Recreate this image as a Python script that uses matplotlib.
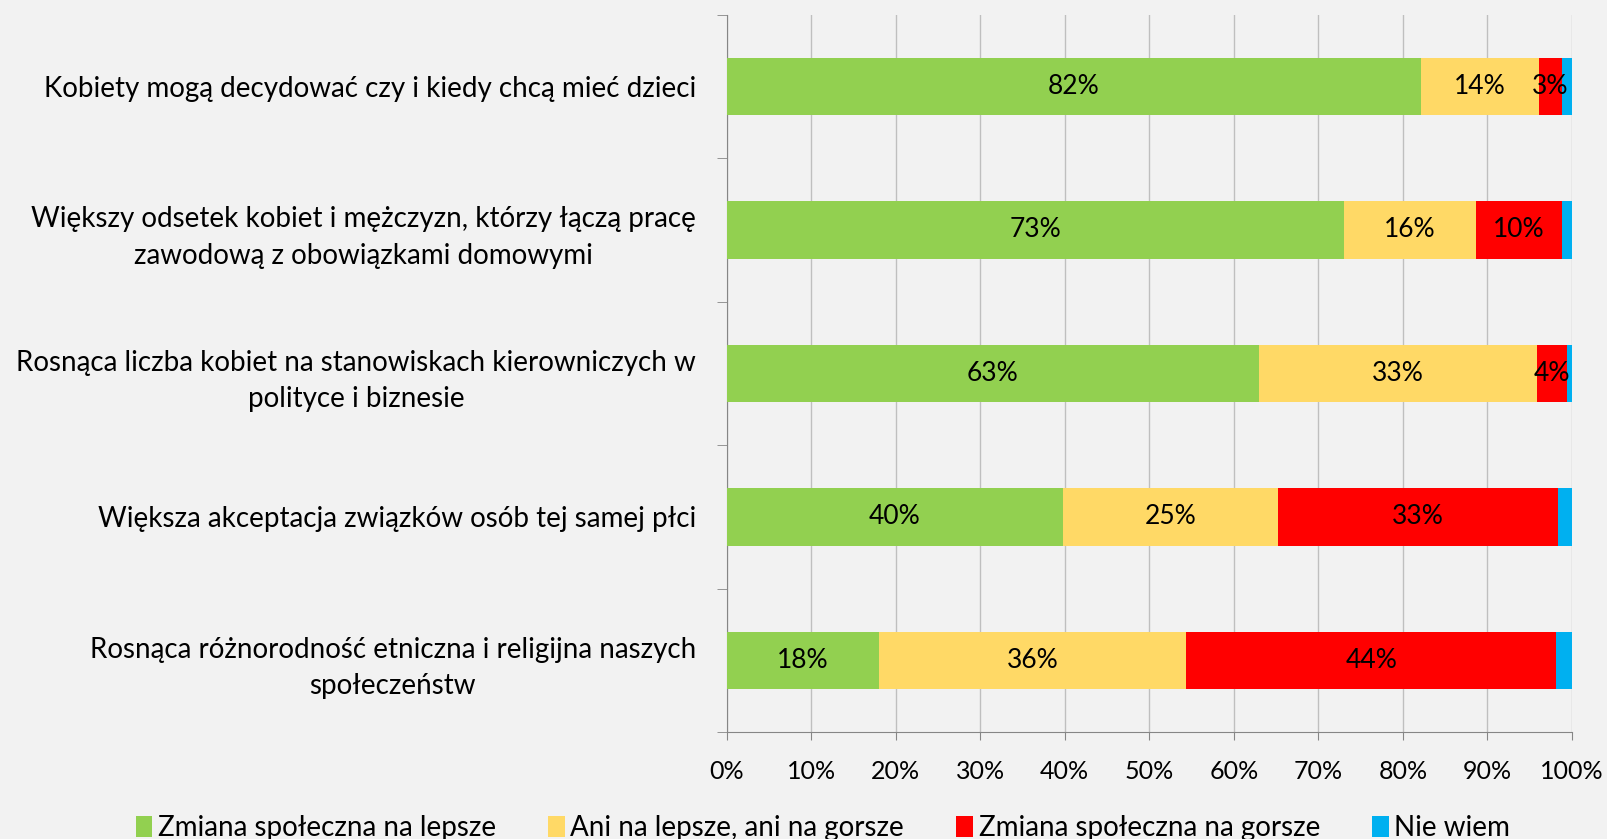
import matplotlib.pyplot as plt
import numpy as np

# kategorie (od góry)
categories = [
    'Kobiety mogą decydować czy i kiedy chcą mieć dzieci',
    'Większy odsetek kobiet i mężczyzn, którzy łączą pracę\nzawodową z obowiązkami domowymi',
    'Rosnąca liczba kobiet na stanowiskach kierowniczych w\npolityce i biznesie',
    'Większa akceptacja związków osób tej samej płci',
    'Rosnąca różnorodność etniczna i religijna naszych\nspołeczeństw',
]

series_names = ['Zmiana społeczna na lepsze', 'Ani na lepsze, ani na gorsze',
                'Zmiana społeczna na gorsze', 'Nie wiem']

lepsze = [82.2, 73.0, 63.0, 39.8, 18.0]
ani = [13.9, 15.6, 32.9, 25.4, 36.4]
gorsze = [2.7, 10.2, 3.5, 33.1, 43.7]
nie_wiem = [1.2, 1.2, 0.6, 1.7, 1.9]

colors = ['#92D050', '#FFD966', '#FF0000', '#00B0F0']
show_labels = [True, True, True, False]

plt.rcParams['font.family'] = ['Lato', 'DejaVu Sans']

fig = plt.figure(figsize=(16.07, 8.39), dpi=100, facecolor='#F2F2F2')
ax = fig.add_axes([0.4521, 0.1275, 0.5261, 0.855])
ax.set_facecolor('#F2F2F2')

y = np.arange(len(categories))
left = np.zeros(len(categories))
for vals, name, col, lab in zip([lepsze, ani, gorsze, nie_wiem], series_names, colors, show_labels):
    vals = np.array(vals)
    ax.barh(y, vals, left=left, height=0.4, color=col, label=name, zorder=3)
    if lab:
        for yi, l, v in zip(y, left, vals):
            ax.text(l + v / 2, yi, f'{round(v)}%', ha='center', va='center', fontsize=19, zorder=4)
    left += vals

ax.set_xlim(0, 100)
ax.set_ylim(len(categories) - 0.5, -0.5)
ax.set_xticks(np.arange(0, 101, 10))
ax.set_xticklabels([f'{t}%' for t in range(0, 101, 10)], fontsize=18)
ax.set_yticks(y)
ax.set_yticklabels(categories, fontsize=20, multialignment='center', linespacing=1.5)
ax.set_yticks(np.arange(-0.5, len(categories)), minor=True)
ax.tick_params(axis='y', which='major', length=0, pad=22)
ax.tick_params(axis='y', which='minor', length=7, color='#868686')
ax.tick_params(axis='x', length=6, color='#868686', pad=14)

ax.grid(axis='x', color='#BFBFBF', linewidth=1, zorder=0)
for s in ['top', 'right']:
    ax.spines[s].set_visible(False)
for s in ['left', 'bottom']:
    ax.spines[s].set_color('#868686')

ax.legend(loc='center', bbox_to_anchor=(-0.386, -0.134, 1.0, 0), ncol=4, frameon=False,
          fontsize=20, handlelength=0.6, handleheight=0.8, handletextpad=0.2, columnspacing=1.88)

plt.savefig('out.png', dpi=100, facecolor=fig.get_facecolor())
